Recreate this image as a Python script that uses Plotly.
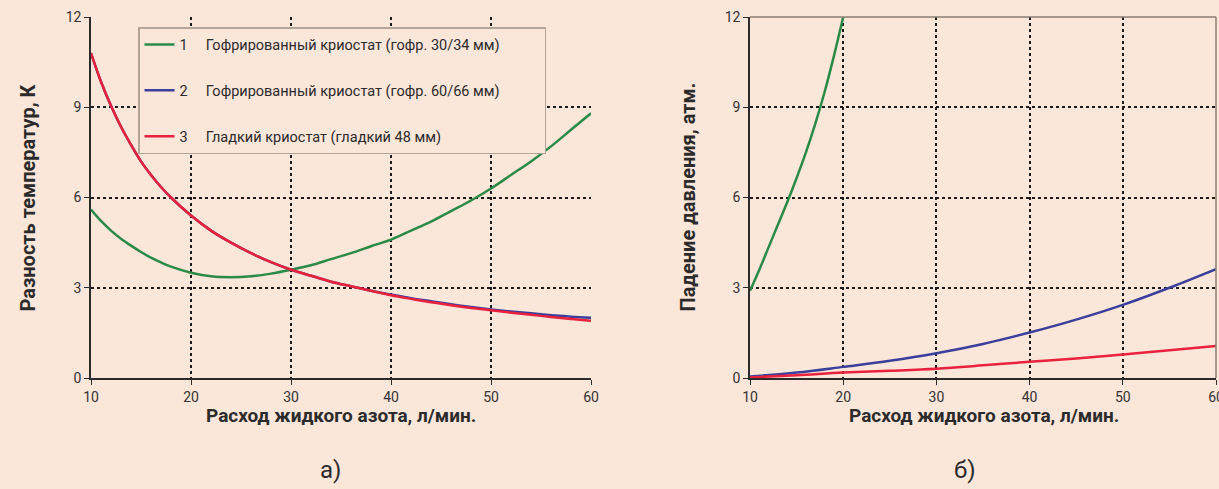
import plotly.graph_objects as go

# ---- data ----
flow_a = [10, 11, 12, 13, 14, 15, 16, 17, 18, 20, 22, 24, 26, 28, 30, 32, 34, 36, 38, 40,
          42, 44, 46, 48, 50, 52, 54, 56, 58, 60]
dT_corr30 = [5.6, 5.22, 4.9, 4.63, 4.4, 4.19, 4.0, 3.84, 3.7, 3.5, 3.38, 3.35, 3.38, 3.47, 3.6,
             3.75, 3.95, 4.15, 4.38, 4.6, 4.9, 5.2, 5.55, 5.9, 6.3, 6.75, 7.2, 7.7, 8.25, 8.8]
dT_corr60 = [10.8, 9.85, 9.05, 8.35, 7.75, 7.2, 6.75, 6.35, 6.0, 5.4, 4.9, 4.5, 4.15, 3.85, 3.6,
             3.4, 3.2, 3.05, 2.9, 2.77, 2.65, 2.55, 2.45, 2.36, 2.28, 2.21, 2.15, 2.09, 2.04, 2.0]
dT_smooth = [10.8, 9.85, 9.05, 8.35, 7.75, 7.2, 6.75, 6.35, 6.0, 5.4, 4.9, 4.5, 4.15, 3.85, 3.6,
             3.4, 3.2, 3.05, 2.9, 2.75, 2.63, 2.52, 2.42, 2.33, 2.25, 2.17, 2.1, 2.03, 1.96, 1.9]

flow_b_corr30 = [10, 11, 12, 13, 14, 15, 16, 17, 18, 19, 20]
dp_corr30 = [2.9, 3.6, 4.35, 5.1, 5.85, 6.65, 7.5, 8.45, 9.5, 10.7, 12.0]
flow_b = [10, 15, 20, 25, 30, 35, 40, 45, 50, 55, 60]
dp_corr60 = [0.05, 0.18, 0.37, 0.57, 0.82, 1.13, 1.51, 1.94, 2.43, 3.0, 3.62]
dp_smooth = [0.02, 0.09, 0.18, 0.24, 0.31, 0.42, 0.54, 0.65, 0.78, 0.92, 1.06]

SP = "\u00a0" * 5
TAIL = "\u00a0" * 11
names = ["1" + SP + "Гофрированный криостат (гофр. 30/34 мм)" + TAIL,
         "2" + SP + "Гофрированный криостат (гофр. 60/66 мм)" + TAIL,
         "3" + SP + "Гладкий криостат (гладкий 48 мм)"]
colors = ["#2a8a48", "#3a3f9c", "#e8213c"]

x_ticks = [10, 20, 30, 40, 50, 60]
y_ticks = [0, 3, 6, 9, 12]

BG = "#fbe6da"
FONT = "Roboto, Arial, sans-serif"
TXT = "#2b2b2b"

fig = go.Figure()

# left panel
fig.add_trace(go.Scatter(x=flow_a, y=dT_corr30, mode="lines", name=names[0], legendgroup="g1",
                         line=dict(color=colors[0], width=2.5, shape="spline"), xaxis="x", yaxis="y"))
fig.add_trace(go.Scatter(x=flow_a, y=dT_corr60, mode="lines", name=names[1], legendgroup="g2",
                         line=dict(color=colors[1], width=2.5, shape="spline"), xaxis="x", yaxis="y"))
fig.add_trace(go.Scatter(x=flow_a, y=dT_smooth, mode="lines", name=names[2], legendgroup="g3",
                         line=dict(color=colors[2], width=2.5, shape="spline"), xaxis="x", yaxis="y"))
# right panel
fig.add_trace(go.Scatter(x=flow_b_corr30, y=dp_corr30, mode="lines", showlegend=False,
                         line=dict(color=colors[0], width=2.5, shape="spline"), xaxis="x2", yaxis="y2"))
fig.add_trace(go.Scatter(x=flow_b, y=dp_corr60, mode="lines", showlegend=False,
                         line=dict(color=colors[1], width=2.5, shape="spline"), xaxis="x2", yaxis="y2"))
fig.add_trace(go.Scatter(x=flow_b, y=dp_smooth, mode="lines", showlegend=False,
                         line=dict(color=colors[2], width=2.5, shape="spline"), xaxis="x2", yaxis="y2"))

W, H = 1219, 489
ydom = [1 - 378 / H, 1 - 17 / H]

def xax(domain, anchor):
    return dict(domain=domain, anchor=anchor, range=[10, 60], tickvals=x_ticks,
                automargin=False, ticklabeloverflow="allow",
                showline=True, linecolor="#2b2b2b", linewidth=1.5,
                ticks="outside", ticklen=5, tickcolor="#2b2b2b",
                showgrid=True, gridcolor="#1a1a1a", gridwidth=1.5, griddash="dot",
                zeroline=False, tickfont=dict(size=14, color="#333333", family=FONT))

def yax(anchor):
    return dict(domain=ydom, anchor=anchor, range=[0, 12], tickvals=y_ticks,
                automargin=False, ticklabeloverflow="allow",
                showline=True, linecolor="#2b2b2b", linewidth=1.5,
                ticks="outside", ticklen=5, tickcolor="#2b2b2b",
                showgrid=False,
                minor=dict(tickvals=[3, 6, 9], showgrid=True, gridcolor="#1a1a1a",
                           gridwidth=1.5, griddash="dot", ticks=""),
                zeroline=False, tickfont=dict(size=14, color="#333333", family=FONT))

def ann(text, x, y, size, angle=0):
    return dict(text=text, x=x / W, y=1 - y / H, xref="paper", yref="paper",
                xanchor="center", yanchor="middle", textangle=angle, showarrow=False,
                font=dict(size=size, family=FONT, color=TXT))

fig.update_layout(
    width=W, height=H,
    margin=dict(l=0, r=0, t=0, b=0, pad=0),
    paper_bgcolor=BG, plot_bgcolor=BG,
    font=dict(family=FONT, color=TXT),
    xaxis=xax([91 / W, 591 / W], "y"),
    yaxis=yax("x"),
    xaxis2=xax([750 / W, 1216 / W], "y2"),
    yaxis2=yax("x2"),
    showlegend=True,
    legend=dict(x=138 / W, y=1 - 27 / H, xanchor="left", yanchor="top",
                bgcolor=BG, bordercolor="#b5a69c", borderwidth=1.5,
                font=dict(size=14.5, color=TXT, family=FONT),
                tracegroupgap=24, itemwidth=30,
                traceorder="grouped"),
    shapes=[
        dict(type="line", xref="x2 domain", yref="y2 domain", x0=0, x1=1, y0=1, y1=1,
             line=dict(color="#8a7d76", width=1.5)),
        dict(type="line", xref="x2 domain", yref="y2 domain", x0=1, x1=1, y0=0, y1=1,
             line=dict(color="#8a7d76", width=1.5)),
    ],
    annotations=[
        ann("<b>Разность температур, К</b>", 28, (17 + 378) / 2, 20, -90),
        ann("<b>Падение давления, атм.</b>", 688, (17 + 378) / 2, 20, -90),
        ann("<b>Расход жидкого азота, л/мин.</b>", 341, 415, 19),
        ann("<b>Расход жидкого азота, л/мин.</b>", 984, 415, 19),
        ann("а)", 330, 470, 24),
        ann("б)", 965, 470, 24),
    ],
)

fig.write_html(
    "out.html",
    config={"displayModeBar": False},
    post_script="document.body.style.margin='0';document.body.style.background='#fbe6da';"
                "document.documentElement.style.overflow='hidden';",
)
